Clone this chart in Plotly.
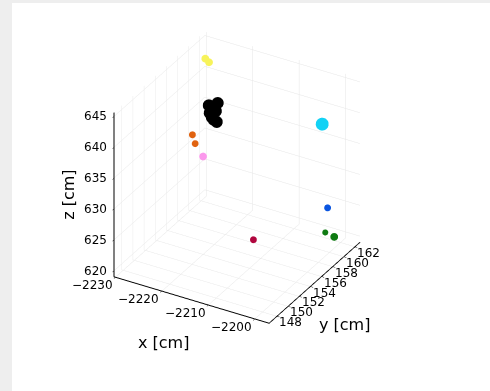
import plotly.graph_objects as go

# Hit positions (cm) grouped by detector layer
x_vals = [
    [-2228.3, -2227.5],
    [-2224.55, -2222.65, -2224.35, -2223.05, -2223.5, -2222.85, -2223.9],
    [-2201.1],
    [-2225.2, -2224.6],
    [-2222.9],
    [-2198.0],
    [-2198.5, -2198.5],
    [-2208.1],
]
y_vals = [
    [161.3, 161.3],
    [158.8, 158.8, 158.8, 158.8, 158.8, 158.8, 158.8],
    [159.6],
    [156.4, 156.4],
    [156.4],
    [158.0],
    [158.0, 159.6],
    [153.1],
]
z_vals = [
    [643.0, 642.6],
    [638.3, 639.1, 637.1, 637.7, 636.2, 636.0, 636.5],
    [639.9],
    [635.3, 634.0],
    [632.3],
    [628.3],
    [624.2, 622.2],
    [624.8],
]
colors = ["#f7f35a", "#000000", "#12d2f5", "#e0620f", "#fb98ec", "#0a55e0", "#0f7a12", "#b0063e"]
sizes = [[9, 9], [14] * 7, [15], [8, 8], [9], [8], [7, 9], [8]]

x_ticks = [-2230, -2220, -2210, -2200]
y_ticks = [148, 150, 152, 154, 156, 158, 160, 162]
z_ticks = [620, 625, 630, 635, 640, 645]

x_range = [-2230.3, -2196.9]
y_range = [146.6, 162.9]
z_range = [619.0, 645.6]

fig = go.Figure()
for xs, ys, zs, c, s in zip(x_vals, y_vals, z_vals, colors, sizes):
    fig.add_trace(go.Scatter3d(
        x=xs, y=ys, z=zs, mode="markers",
        marker=dict(color=c, size=s, line=dict(width=0), opacity=1),
        showlegend=False,
    ))

FONT = "DejaVu Sans"
tick_font = dict(family=FONT, size=12, color="#000000")
title_font = dict(family=FONT, size=16, color="#000000")


def axis(ticks, rng):
    return dict(
        title=dict(text=""),
        tickvals=ticks,
        range=rng,
        autorange=False,
        showticklabels=False,
        showgrid=True,
        gridcolor="#e6e6e6",
        gridwidth=1,
        showline=True,
        linecolor="#000000",
        linewidth=2,
        ticks="outside",
        ticklen=3,
        tickcolor="#000000",
        zeroline=False,
        showbackground=False,
        showspikes=False,
    )


def fmt(v):
    return str(v).replace("-", "\u2212")


# Horizontal tick labels and axis titles placed on the box edges
notes = []
for v in x_ticks:
    notes.append(dict(x=v, y=y_range[0], z=z_range[0], text=fmt(v), showarrow=False,
                      xanchor="center", yanchor="middle", xshift=-23, yshift=-8, font=tick_font))
for v in y_ticks:
    notes.append(dict(x=x_range[1], y=v, z=z_range[0], text=fmt(v), showarrow=False,
                      xanchor="center", yanchor="middle", xshift=14, yshift=-6, font=tick_font))
for v in z_ticks:
    notes.append(dict(x=x_range[0], y=y_range[0], z=v, text=fmt(v), showarrow=False,
                      xanchor="right", yanchor="middle", xshift=-5, yshift=0, font=tick_font))
notes.append(dict(x=sum(x_range) / 2, y=y_range[0], z=z_range[0], text="x [cm]", showarrow=False,
                  xanchor="center", yanchor="middle", xshift=-28, yshift=-42, font=title_font))
notes.append(dict(x=x_range[1], y=sum(y_range) / 2, z=z_range[0], text="y [cm]", showarrow=False,
                  xanchor="center", yanchor="middle", xshift=30, yshift=-42, font=title_font))
notes.append(dict(x=x_range[0], y=y_range[0], z=sum(z_range) / 2, text="z [cm]", showarrow=False,
                  xanchor="center", yanchor="middle", xshift=-45, yshift=0, textangle=-90,
                  font=title_font))

eye_dir = (0.4294, -0.7409, 0.5165)
dist = 2.0

fig.update_layout(
    width=490,
    height=391,
    margin=dict(l=0, r=0, t=0, b=0),
    paper_bgcolor="#eeeeee",
    shapes=[dict(
        type="rect", xref="paper", yref="paper",
        x0=12 / 490, x1=1.0, y0=0.0, y1=1 - 3 / 391,
        fillcolor="#ffffff", line=dict(width=0), layer="below",
    )],
    scene=dict(
        domain=dict(x=[0.0, 0.967], y=[0.092, 1.0]),
        xaxis=axis(x_ticks, x_range),
        yaxis=axis(y_ticks, y_range),
        zaxis=axis(z_ticks, z_range),
        aspectmode="manual",
        aspectratio=dict(x=1.01, y=1.02, z=1.08),
        camera=dict(
            projection=dict(type="orthographic"),
            eye=dict(x=eye_dir[0] * dist, y=eye_dir[1] * dist, z=eye_dir[2] * dist),
            up=dict(x=0, y=0, z=1),
            center=dict(x=0, y=0, z=0),
        ),
        bgcolor="rgba(0,0,0,0)",
        annotations=notes,
    ),
)

fig.write_html("out.html")
